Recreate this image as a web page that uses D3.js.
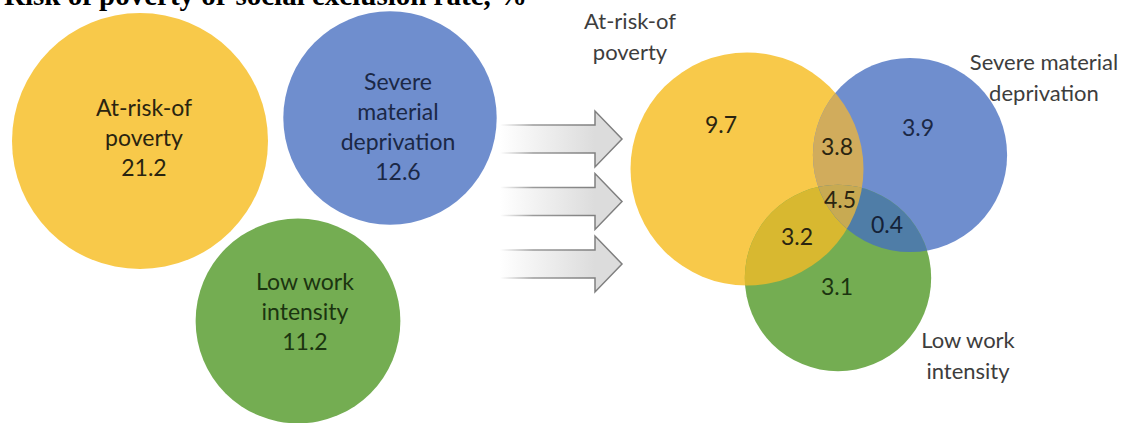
<!DOCTYPE html>
<html>
<head>
<meta charset="utf-8">
<script src="https://cdn.jsdelivr.net/npm/d3@7"></script>
<style>
  html, body { margin: 0; padding: 0; background: #fff; overflow: hidden; }
  svg { display: block; }
</style>
</head>
<body>
<div id="chart"></div>
<script>
// Poverty or social exclusion components, %
const setNames = ["At-risk-of poverty", "Severe material deprivation", "Low work intensity"];
const setLines = [["At-risk-of", "poverty"], ["Severe", "material", "deprivation"], ["Low work", "intensity"]];
const setTotals = [21.2, 12.6, 11.2];

// Venn regions (right side)
const regionNames = ["Poverty only", "Deprivation only", "Poverty & deprivation", "All three",
  "Deprivation & low work", "Poverty & low work", "Low work only"];
const regionValues = [9.7, 3.9, 3.8, 4.5, 0.4, 3.2, 3.1];

const width = 1144, height = 423;

// Colours
const COLORS = ["#F8C94A", "#6F8ECE", "#74AD52"];
const OVERLAP = {
  yb: "#D1AC5C",
  yg: "#D8B830",
  bg: "#4F7DA7",
  ybg: "#C8AA52"
};
const FONT = "Lato, 'Open Sans', sans-serif";

const svg = d3.select("#chart").append("svg")
  .attr("width", width)
  .attr("height", height);

const defs = svg.append("defs");

// Title, cut off at the top edge as in the source image
svg.append("text")
  .attr("x", 4).attr("y", 5)
  .attr("font-family", "'Liberation Serif', 'Times New Roman', serif")
  .attr("font-weight", "bold")
  .attr("font-size", 29)
  .attr("fill", "#000")
  .text("Risk of poverty or social exclusion rate, %");

// ---- Left: separate circles ----
const rLeft = d3.scalePow().exponent(0.35).domain([0, d3.max(setTotals)]).range([0, 128]);
const leftCenters = [[140, 141], [390, 118], [298, 321]];
const leftText = ["#2a2410", "#1b2846", "#1b3410"];
const leftDx = [4, 8, 7], leftDy = [-3, 9, -9];

const left = svg.append("g").attr("class", "left");
setTotals.forEach((v, i) => {
  const [cx, cy] = leftCenters[i];
  left.append("circle")
    .attr("cx", cx).attr("cy", cy)
    .attr("r", rLeft(v))
    .attr("fill", COLORS[i]);

  const lines = [...setLines[i], d3.format(".1f")(v)];
  const lh = 30;
  const y0 = cy - (lines.length - 1) * lh / 2 + 8 + leftDy[i];
  const t = left.append("text")
    .attr("text-anchor", "middle")
    .attr("font-family", FONT)
    .attr("font-size", 23)
    .attr("fill", leftText[i]);
  lines.forEach((s, k) => {
    t.append("tspan")
      .attr("x", cx + leftDx[i])
      .attr("y", y0 + k * lh)
      .text(s);
  });
});

// ---- Arrows ----
const arrowY = d3.scalePoint().domain(d3.range(3)).range([139, 264]);
const ax0 = 500, axHead = 595, axTip = 622, shaftH = 14, headH = 28;

const fillGrad = defs.append("linearGradient")
  .attr("id", "arrowFill")
  .attr("gradientUnits", "userSpaceOnUse")
  .attr("x1", ax0).attr("x2", axHead).attr("y1", 0).attr("y2", 0);
fillGrad.append("stop").attr("offset", "0%").attr("stop-color", "#ffffff");
fillGrad.append("stop").attr("offset", "100%").attr("stop-color", "#dcdcdc");

const strokeGrad = defs.append("linearGradient")
  .attr("id", "arrowStroke")
  .attr("gradientUnits", "userSpaceOnUse")
  .attr("x1", ax0).attr("x2", axHead).attr("y1", 0).attr("y2", 0);
strokeGrad.append("stop").attr("offset", "0%").attr("stop-color", "#ffffff");
strokeGrad.append("stop").attr("offset", "35%").attr("stop-color", "#9a9a9a");
strokeGrad.append("stop").attr("offset", "100%").attr("stop-color", "#7f7f7f");

const arrowLine = d3.line();
svg.append("g").attr("class", "arrows")
  .selectAll("path")
  .data(d3.range(3))
  .join("path")
  .attr("d", d => {
    const y = arrowY(d);
    return arrowLine([
      [ax0, y - shaftH], [axHead, y - shaftH], [axHead, y - headH], [axTip, y],
      [axHead, y + headH], [axHead, y + shaftH], [ax0, y + shaftH]
    ]);
  })
  .attr("fill", "url(#arrowFill)")
  .attr("stroke", "url(#arrowStroke)")
  .attr("stroke-width", 1.5)
  .attr("stroke-linejoin", "miter");

// ---- Right: Venn diagram ----
const rRight = d3.scalePow().exponent(0.35).domain([0, d3.max(setTotals)]).range([0, 116.5]);
const vennCenters = [[747, 169], [910, 155], [838, 278]];
const venn = svg.append("g").attr("class", "venn");

vennCenters.forEach(([cx, cy], i) => {
  defs.append("clipPath").attr("id", "clip" + i)
    .append("circle").attr("cx", cx).attr("cy", cy).attr("r", rRight(setTotals[i]));
});
function circleAt(g, i, fill) {
  const [cx, cy] = vennCenters[i];
  return g.append("circle").attr("cx", cx).attr("cy", cy)
    .attr("r", rRight(setTotals[i])).attr("fill", fill);
}
[0, 1, 2].forEach(i => circleAt(venn, i, COLORS[i]));
// pairwise overlaps
circleAt(venn.append("g").attr("clip-path", "url(#clip0)"), 1, OVERLAP.yb);
circleAt(venn.append("g").attr("clip-path", "url(#clip0)"), 2, OVERLAP.yg);
circleAt(venn.append("g").attr("clip-path", "url(#clip1)"), 2, OVERLAP.bg);
// triple overlap
circleAt(venn.append("g").attr("clip-path", "url(#clip0)")
  .append("g").attr("clip-path", "url(#clip1)"), 2, OVERLAP.ybg);

// region value labels
const regionPos = [[721, 125], [918, 128], [837, 147], [840, 200], [887, 225], [797, 237], [837, 287]];
const regionColor = ["#2a2410", "#1b2846", "#2a2410", "#2a2410", "#142238", "#2a2410", "#1b3410"];
venn.selectAll("text.value")
  .data(regionValues)
  .join("text")
  .attr("class", "value")
  .attr("x", (d, i) => regionPos[i][0])
  .attr("y", (d, i) => regionPos[i][1] + 8)
  .attr("text-anchor", "middle")
  .attr("font-family", FONT)
  .attr("font-size", 23)
  .attr("fill", (d, i) => regionColor[i])
  .text(d => d3.format(".1f")(d));

// outer set labels
const outerPos = [[630, 29], [1044, 70], [968, 348]];
setLines.forEach((lines, i) => {
  const ls = i === 1 ? [lines[0] + " " + lines[1], lines[2]] : lines;
  const t = venn.append("text")
    .attr("text-anchor", "middle")
    .attr("font-family", FONT)
    .attr("font-size", 22)
    .attr("fill", "#3d3d3d");
  ls.forEach((s, k) => {
    t.append("tspan").attr("x", outerPos[i][0]).attr("y", outerPos[i][1] + k * 31).text(s);
  });
});
</script>
</body>
</html>
